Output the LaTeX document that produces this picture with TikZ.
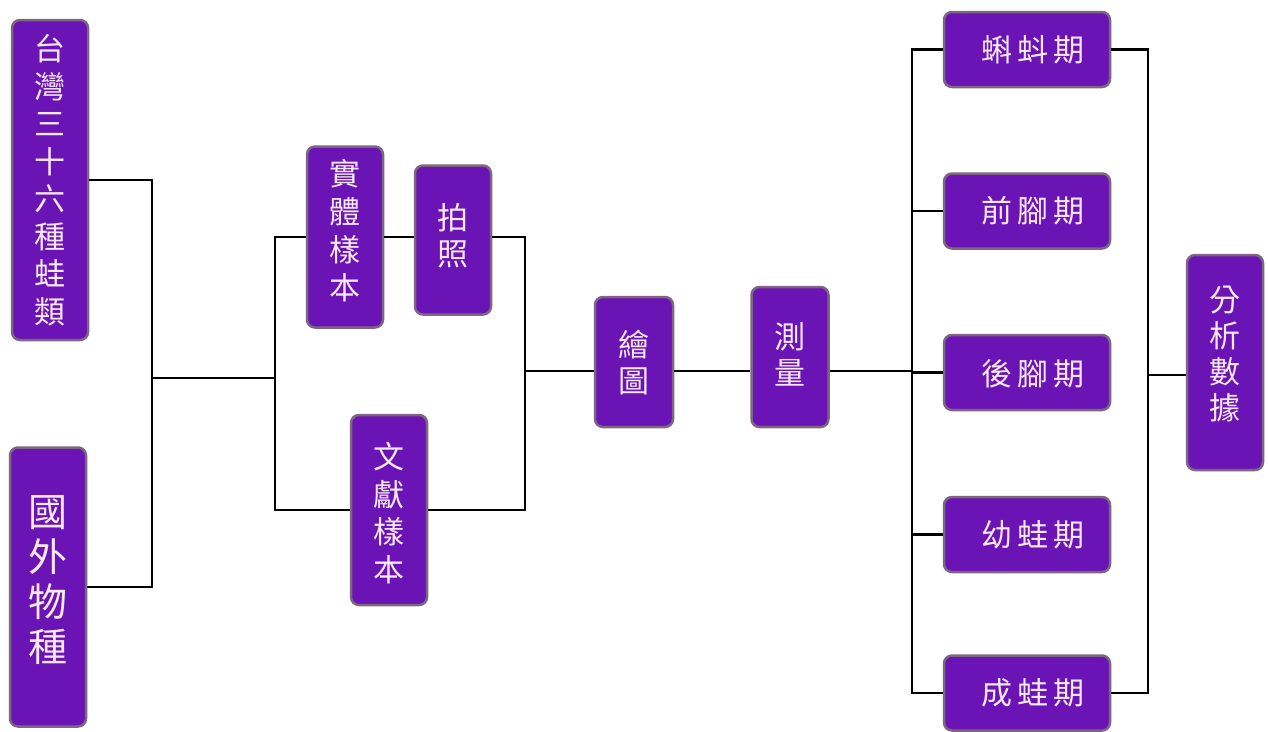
\documentclass[tikz,border=0pt]{standalone}
\usepackage{fontspec}
\newfontfamily\cjk{Noto Sans CJK TC}
\definecolor{boxfill}{HTML}{6A14B6}
\definecolor{boxedge}{HTML}{7E6680}
\definecolor{boxtext}{HTML}{F8E8F6}
\tikzset{
  box/.style={draw=boxedge, line width=2.5pt, fill=boxfill, rounded corners=8pt, inner sep=0pt},
  wide/.style={box, minimum width=166pt, minimum height=75pt},
  txt/.style={text=boxtext, inner sep=0pt, align=center, font=\cjk\fontsize{31}{37.5}\selectfont},
  link/.style={draw=black, line width=2.8pt}
}
\newcommand{\hs}{\hspace{5pt}}
\begin{document}
\begin{tikzpicture}[x=1pt,y=-1pt]
\useasboundingbox (0,0) rectangle (1268,731);
% left column
\node[box, minimum width=76pt, minimum height=320pt] (tw) at (50,180) {};
\node[txt] (twt) at (50,180) {台\\灣\\三\\十\\六\\種\\蛙\\類};
\node[box, minimum width=76pt, minimum height=279pt] (gw) at (48,587) {};
\node[txt, font=\cjk\fontsize{39}{45}\selectfont] (gwt) at (48,580) {國\\外\\物\\種};
% sample sources
\node[box, minimum width=76pt, minimum height=181pt] (st) at (345,237) {};
\node[txt, font=\cjk\fontsize{31}{38}\selectfont] (stt) at (345,231) {實\\體\\樣\\本};
\node[box, minimum width=76pt, minimum height=149pt] (pz) at (453,240) {};
\node[txt, font=\cjk\fontsize{31}{36}\selectfont] (pzt) at (453,236) {拍\\照};
\node[box, minimum width=76pt, minimum height=190pt] (wx) at (389,510) {};
\node[txt] (wxt) at (389,513) {文\\獻\\樣\\本};
% drawing and measuring
\node[box, minimum width=78pt, minimum height=130pt] (hz) at (634,362) {};
\node[txt, font=\cjk\fontsize{31}{36}\selectfont] (hzt) at (634,363) {繪\\圖};
\node[box, minimum width=77pt, minimum height=140pt] (cl) at (790,357) {};
\node[txt, font=\cjk\fontsize{31}{36}\selectfont] (clt) at (790,354) {測\\量};
% stages
\node[wide] (kd) at (1027,49.5) {};
\node[txt] (kdt) at (1033,49.5) {蝌\hs 蚪\hs 期};
\node[wide] (qj) at (1027,211) {};
\node[txt] (qjt) at (1033,211) {前\hs 腳\hs 期};
\node[wide] (hj) at (1027,372.5) {};
\node[txt] (hjt) at (1033,374) {後\hs 腳\hs 期};
\node[wide] (yw) at (1027,534.5) {};
\node[txt] (ywt) at (1033,534.5) {幼\hs 蛙\hs 期};
\node[wide] (cw) at (1027,693) {};
\node[txt] (cwt) at (1033,693) {成\hs 蛙\hs 期};
% analysis
\node[box, minimum width=76pt, minimum height=215pt] (fx) at (1225,362.5) {};
\node[txt, font=\cjk\fontsize{31}{36}\selectfont] (fxt) at (1225,354) {分\\析\\數\\據};
% junction points
\coordinate (ja) at (152,378);
\coordinate (jb) at (275,378);
\coordinate (jc) at (525,371);
\coordinate (jd) at (912,371);
\coordinate (je) at (1148,375);
% connectors
\draw[link] (tw.east) -| (ja) |- (gw.east);
\draw[link] (ja) -- (jb);
\draw[link] (st.west) -| (jb) |- (wx.west);
\draw[link] (st.east) -- (st.east -| pz.west);
\draw[link] (st.east -| pz.east) -| (jc) |- (wx.east);
\draw[link] (jc) -- (jc -| hz.west);
\draw[link] (jc -| hz.east) -- (jc -| cl.west);
\draw[link] (jc -| cl.east) -- (jd);
\draw[link] (kd.west) -| (jd) |- (cw.west);
\draw[link] (qj.west) -- (qj.west -| jd);
\draw[link] (hj.west) -- (hj.west -| jd);
\draw[link] (yw.west) -- (yw.west -| jd);
\draw[link] (kd.east) -| (je) |- (cw.east);
\draw[link] (je) -- (je -| fx.west);
\end{tikzpicture}
\end{document}
